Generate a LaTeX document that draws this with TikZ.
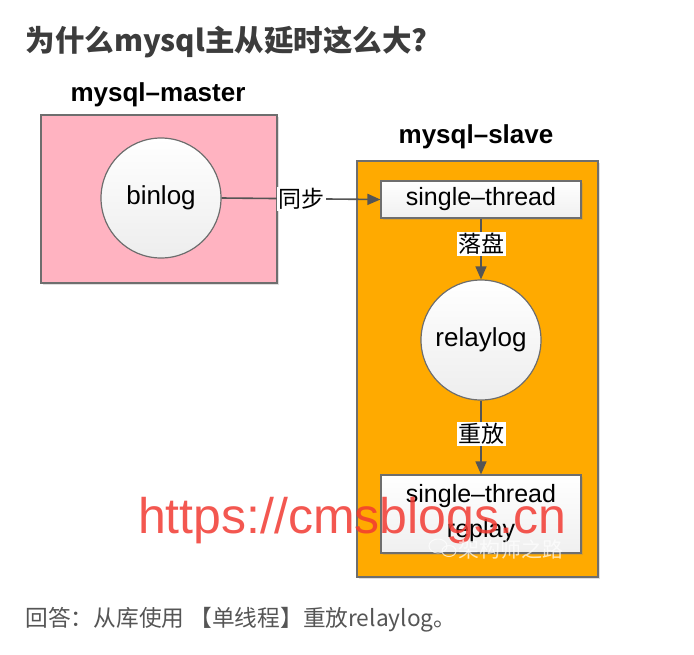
\documentclass[tikz,border=0pt]{standalone}
\usepackage{fontspec}
\setmainfont{Liberation Sans}
\newfontfamily\cjk{Noto Sans CJK SC}
\usetikzlibrary{arrows.meta,positioning,shadows}
\definecolor{MasterPink}{HTML}{FFB3C1}
\definecolor{SlaveOrange}{HTML}{FFAA00}
\definecolor{Edge}{HTML}{6E6E6E}
\definecolor{ArrowGray}{HTML}{555555}
\definecolor{TitleGray}{HTML}{3C3C3C}
\definecolor{TextGray}{HTML}{555555}
\definecolor{MarkRed}{HTML}{F23A32}
\tikzset{
  hostbox/.style={draw=Edge,line width=1.2pt,inner sep=0pt,
    drop shadow={opacity=0.25,shadow xshift=2pt,shadow yshift=-2pt}},
  logdisk/.style={circle,draw=Edge,line width=1.2pt,minimum size=120pt,
    inner sep=0pt,top color=white,bottom color=gray!14,
    font=\fontsize{26}{30}\selectfont},
  threadbox/.style={draw=Edge,line width=1.2pt,minimum width=200pt,
    top color=white,bottom color=gray!12,align=center,
    font=\fontsize{25}{35}\selectfont,
    drop shadow={opacity=0.25,shadow xshift=2pt,shadow yshift=-2pt}},
  flow/.style={draw=ArrowGray,line width=1.6pt,
    -{Triangle[length=13pt,width=11pt]}},
  steplabel/.style={fill=white,inner sep=1.5pt,
    font=\cjk\fontsize{23}{25}\selectfont},
  hosttitle/.style={font=\bfseries\fontsize{26}{30}\selectfont}
}
\begin{document}
\begin{tikzpicture}[x=1pt,y=-1pt]
  \useasboundingbox[fill=white] (0,0) rectangle (694,654);
  % question
  \node[anchor=west,text=TitleGray,font=\cjk\bfseries\fontsize{29.5}{32}\selectfont]
    (question) at (22,42) {为什么mysql主从延时这么大?};
  % master side
  \node[hosttitle] (mastertitle) at (158,95) {mysql--master};
  \node[hostbox,fill=MasterPink,minimum width=236pt,minimum height=168pt]
    (master) at (159,199) {};
  \node[logdisk] (binlog) at (161,198) {binlog};
  % slave side
  \node[hosttitle] (slavetitle) at (476,137) {mysql--slave};
  \node[hostbox,fill=SlaveOrange,minimum width=241pt,minimum height=416pt]
    (slave) at (477.5,369) {};
  \node[threadbox,minimum height=37pt] (io) at (481,199.5) {single--thread};
  \node[logdisk] (relaylog) at (481,340) {relaylog};
  \node[threadbox,minimum height=78pt] (sql) at (481,514)
    {single--thread\\replay};
  % connectors
  \draw[flow] (binlog.east) -- (io.west)
    node[steplabel,midway] (sync) {同步};
  \draw[flow] (io.south) -- (relaylog.north)
    node[steplabel,pos=0.42] (flush) {落盘};
  \draw[flow] (relaylog.south) -- (sql.north)
    node[steplabel,pos=0.45] (replay) {重放};
  % watermarks
  \node[text=MarkRed,opacity=0.85,font=\fontsize{50}{52}\selectfont]
    (site) at (352,521) {https://cmsblogs.cn};
  \draw[white,opacity=0.7,line width=1pt] (438,546) ellipse (9pt and 7pt)
    (449,551) ellipse (7pt and 5.5pt);
  \node[anchor=west,text=white,opacity=0.7,font=\cjk\fontsize{21}{24}\selectfont]
    (account) at (455,549) {架构师之路};
  % answer
  \node[anchor=west,text=TextGray,font=\cjk\fontsize{22.7}{26}\selectfont]
    (answer) at (22,620) {回答：从库使用 【单线程】重放relaylog。};
\end{tikzpicture}
\end{document}
